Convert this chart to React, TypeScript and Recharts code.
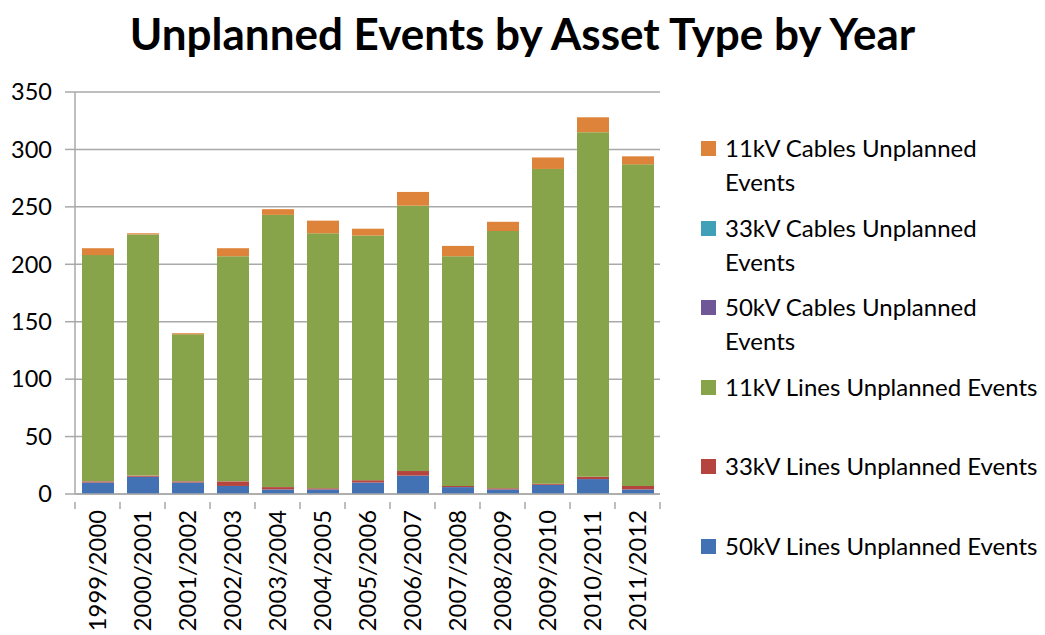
import React from 'react';
import { BarChart, Bar, XAxis, YAxis, CartesianGrid, Legend } from 'recharts';

// years on the x axis
const years = [
    '1999/2000', '2000/2001', '2001/2002', '2002/2003', '2003/2004', '2004/2005', '2005/2006',
    '2006/2007', '2007/2008', '2008/2009', '2009/2010', '2010/2011', '2011/2012',
];

// stacked from the bottom up
const lines50kV = [10, 15, 10, 7, 4, 4, 10, 16, 6, 4, 8, 13, 4];
const lines33kV = [1, 1, 1, 4, 2, 1, 2, 4, 1, 1, 1, 2, 3];
const lines11kV = [197, 210, 128, 196, 237, 222, 213, 231, 200, 224, 274, 300, 280];
const cables50kV = [0, 0, 0, 0, 0, 0, 0, 0, 0, 0, 0, 0, 0];
const cables33kV = [0, 0, 0, 0, 0, 0, 0, 0, 0, 0, 0, 0, 0];
const cables11kV = [6, 1, 1, 7, 5, 11, 6, 12, 9, 8, 10, 13, 7];

const yTicks = [0, 50, 100, 150, 200, 250, 300, 350];

const series = [
    { key: 'l50', name: '50kV Lines Unplanned Events', color: '#4272b4', values: lines50kV },
    { key: 'l33', name: '33kV Lines Unplanned Events', color: '#b5443f', values: lines33kV },
    { key: 'l11', name: '11kV Lines Unplanned Events', color: '#88a44b', values: lines11kV },
    { key: 'c50', name: '50kV Cables Unplanned Events', color: '#6f5797', values: cables50kV },
    { key: 'c33', name: '33kV Cables Unplanned Events', color: '#3fa0b8', values: cables33kV },
    { key: 'c11', name: '11kV Cables Unplanned Events', color: '#de843a', values: cables11kV },
];

const data = years.map((year, i) => {
    const row: any = { year };
    series.forEach(s => { row[s.key] = s.values[i]; });
    return row;
});

const FONT = 'Lato, "Open Sans", sans-serif';
const GRID = '#a9a9a9';

const YearTick = (props: any) => {
    const { x, y, payload, index } = props;
    return (
        <g transform={`translate(${x},${y})`}>
            <line x1={-22.5} y1={0} x2={-22.5} y2={7} stroke={GRID} strokeWidth={1.5} />
            {index === years.length - 1 &&
                <line x1={22.5} y1={0} x2={22.5} y2={7} stroke={GRID} strokeWidth={1.5} />}
            <text transform="rotate(-90)" x={-8} y={0} dy="0.36em" textAnchor="end"
                fontFamily={FONT} fontSize={23.8} fill="#000">{payload.value}</text>
        </g>
    );
};

// legend listed top-down: last stacked series first
const LegendBox = () => (
    <div style={{ fontFamily: FONT, fontSize: 24, color: '#000' }}>
        {[...series].reverse().map(s => (
            <div key={s.key} style={{ height: 79.5, display: 'flex', alignItems: 'flex-start' }}>
                <div style={{ width: 15, height: 15, background: s.color, marginTop: 10, marginRight: 9, flexShrink: 0 }} />
                <div style={{ width: 318, lineHeight: '34px' }}>{s.name}</div>
            </div>
        ))}
    </div>
);

export default function App() {
    return (
        <div style={{ position: 'absolute', left: 0, top: 0, width: 1045, height: 635, background: '#fff' }}>
            <div style={{
                position: 'absolute', left: 0, top: 6, width: 1045, textAlign: 'center',
                fontFamily: FONT, fontWeight: 700, fontSize: 44, lineHeight: '54px',
            }}>
                Unplanned Events by Asset Type by Year
            </div>
            <BarChart width={1045} height={635} data={data}
                margin={{ top: 92, right: 385, bottom: 0, left: 0 }}>
                <CartesianGrid vertical={false} stroke={GRID} strokeWidth={1.5} />
                <XAxis dataKey="year" interval={0} height={141} tickLine={false}
                    axisLine={{ stroke: GRID, strokeWidth: 1.5 }} tick={<YearTick />} />
                <YAxis width={75} domain={[0, 350]} ticks={yTicks} tickSize={10} tickMargin={13}
                    axisLine={{ stroke: GRID, strokeWidth: 1.5 }} tickLine={{ stroke: GRID, strokeWidth: 1.5 }}
                    tick={{ fontFamily: FONT, fontSize: 23.5, fill: '#000' }} />
                <Legend layout="vertical" align="center" verticalAlign="middle" content={<LegendBox />}
                    wrapperStyle={{ position: 'absolute', left: 701, top: 131, width: 344 }} />
                {series.map(s => (
                    <Bar key={s.key} dataKey={s.key} name={s.name} stackId="a" fill={s.color}
                        barSize={32} isAnimationActive={false} />
                ))}
            </BarChart>
        </div>
    );
}
